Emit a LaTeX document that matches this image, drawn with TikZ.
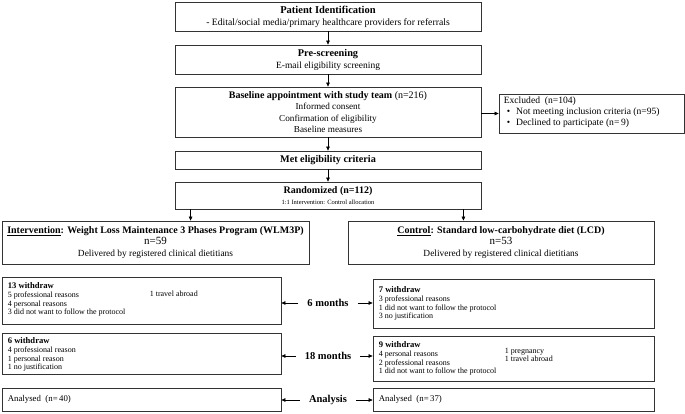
\documentclass[tikz,border=0pt]{standalone}
\usepackage{fontspec}
\setmainfont{Liberation Serif}
\usetikzlibrary{arrows.meta,calc}
\begin{document}
\begin{tikzpicture}[x=1pt,y=-1pt,
  box/.style={draw=black!80, line width=0.8pt, inner sep=0pt, align=center},
  txt/.style={inner sep=0pt, align=left, anchor=north west},
  arr/.style={-{Triangle[length=4pt,width=3.6pt]}, line width=0.6pt},
  mid/.style={inner xsep=9pt, inner ysep=0pt, font=\fontsize{10.5}{12}\selectfont\bfseries},
  small/.style={font=\fontsize{8}{8.7}\selectfont},
  wtitle/.style={font=\fontsize{8.6}{8.7}\selectfont\bfseries}]
\useasboundingbox (0,0) rectangle (685,414);

% top column
\node[box, minimum width=306pt, minimum height=29pt, font=\fontsize{9.7}{12}\selectfont] (b1) at (328,16.5)
  {{\fontsize{10.5}{12}\selectfont\textbf{Patient Identification}}\\- Edital/social media/primary healthcare providers for referrals};
\node[box, minimum width=306pt, minimum height=29pt, font=\fontsize{9.5}{12}\selectfont] (b2) at (328,59.5)
  {{\fontsize{10.3}{12}\selectfont\textbf{Pre-screening}}\\E-mail eligibility screening};
\node[box, minimum width=306pt, minimum height=50pt, font=\fontsize{9.2}{11.2}\selectfont] (b3) at (328,112)
  {{\fontsize{10}{11.2}\selectfont\textbf{Baseline appointment with study team} (n=216)}\\Informed consent\\Confirmation of eligibility\\Baseline measures};
\node[box, minimum width=306pt, minimum height=18pt, font=\fontsize{10.2}{12}\selectfont] (b4) at (328,160)
  {\textbf{Met eligibility criteria}};
\node[box, minimum width=306pt, minimum height=27pt, font=\fontsize{10}{10.5}\selectfont] (b5) at (328,195.5)
  {\textbf{Randomized (n=112)}\\{\fontsize{6.5}{10.5}\selectfont 1:1 Intervention: Control allocation}};

% excluded
\node[box, minimum width=185pt, minimum height=39pt] (exc) at (591.5,113.5) {};
\node[txt, font=\fontsize{9.6}{11}\selectfont] (exct) at ([xshift=5pt,yshift=-3.5pt]exc.north west)
  {Excluded\ \ (n=104)\\\hspace*{3pt}\textbullet\hspace{6pt}Not meeting inclusion criteria (n=95)\\\hspace*{3pt}\textbullet\hspace{6pt}Declined to participate (n=\,9)};

% arms
\node[box, minimum width=307pt, minimum height=43pt, font=\fontsize{9.4}{11.5}\selectfont] (int) at (155.5,242.5)
  {{\fontsize{10}{11.5}\selectfont\textbf{\underline{Intervention}: Weight Loss Maintenance 3 Phases Program (WLM3P)}}\\{\fontsize{11}{11.5}\selectfont n=59}\\Delivered by registered clinical dietitians};
\node[box, minimum width=306pt, minimum height=43pt, font=\fontsize{9.4}{11.5}\selectfont] (ctl) at (501,242.5)
  {{\fontsize{10}{11.5}\selectfont\textbf{\underline{Control}: Standard low-carbohydrate diet (LCD)}}\\{\fontsize{11}{11.5}\selectfont n=53}\\Delivered by registered clinical dietitians};

% 6 months
\node[box, minimum width=279pt, minimum height=47pt] (l6) at (141.5,300.5) {};
\node[txt, small] (l6t) at ([xshift=6pt,yshift=-6pt]l6.north west)
  {{\fontsize{8.6}{8.7}\selectfont\textbf{13 withdraw}}\\5 professional reasons\\4 personal reasons\\3 did not want to follow the protocol};
\node[txt, small] (l6u) at ([xshift=148pt,yshift=-14pt]l6.north west) {1 travel abroad};
\node[box, minimum width=281pt, minimum height=49pt] (r6) at (513.5,303.5) {};
\node[txt, small] (r6t) at ([xshift=6pt,yshift=-8pt]r6.north west)
  {{\fontsize{8.6}{8.7}\selectfont\textbf{7 withdraw}}\\3 professional reasons\\1 did not want to follow the protocol\\3 no justification};

% 18 months
\node[box, minimum width=279pt, minimum height=41pt] (l18) at (141.5,353.5) {};
\node[txt, small] (l18t) at ([xshift=6pt,yshift=-5pt]l18.north west)
  {{\fontsize{8.6}{8.7}\selectfont\textbf{6 withdraw}}\\4 professional reason\\1 personal reason\\1 no justification};
\node[box, minimum width=281pt, minimum height=45pt] (r18) at (513.5,358.5) {};
\node[txt, small] (r18t) at ([xshift=6pt,yshift=-6pt]r18.north west)
  {{\fontsize{8.6}{8.7}\selectfont\textbf{9 withdraw}}\\4 personal reasons\\2 professional reasons\\1 did not want to follow the protocol};
\node[txt, small] (r18u) at ([xshift=132pt,yshift=-12pt]r18.north west) {1 pregnancy\\1 travel abroad};

% analysis
\node[box, minimum width=279pt, minimum height=23pt] (la) at (141.5,399.5) {};
\node[inner sep=0pt, anchor=west, font=\fontsize{8.8}{9}\selectfont] (lat) at ([xshift=6pt]la.west) {Analysed\ \ (n=\,40)};
\node[box, minimum width=281pt, minimum height=23pt] (ra) at (513.5,399.5) {};
\node[inner sep=0pt, anchor=west, font=\fontsize{8.8}{9}\selectfont] (rat) at ([xshift=6pt]ra.west) {Analysed\ \ (n=\,37)};

% middle labels
\node[mid] (m6) at (328,303) {6 months};
\node[mid] (m18) at (328,356) {18 months};
\node[mid] (ma) at (328,400) {Analysis};

% connectors
\draw[arr] (b1) -- (b2);
\draw[arr] (b2) -- (b3);
\draw[arr] (b3) -- (b4);
\draw[arr] (b4) -- (b5);
\draw[arr] (b3.east |- exc.west) -- (exc.west);
\draw[arr] ([xshift=16pt]b5.south west) -- ([xshift=16pt]b5.south west |- int.north);
\draw[arr] ([xshift=-18pt]b5.south east) -- ([xshift=-18pt]b5.south east |- ctl.north);
\foreach \m/\l/\r in {m6/l6/r6, m18/l18/r18, ma/la/ra}{
  \draw[arr] (\m.west) -- (\l.east |- \m.west);
  \draw[arr] (\m.east) -- (\r.west |- \m.east);
}
\end{tikzpicture}
\end{document}
